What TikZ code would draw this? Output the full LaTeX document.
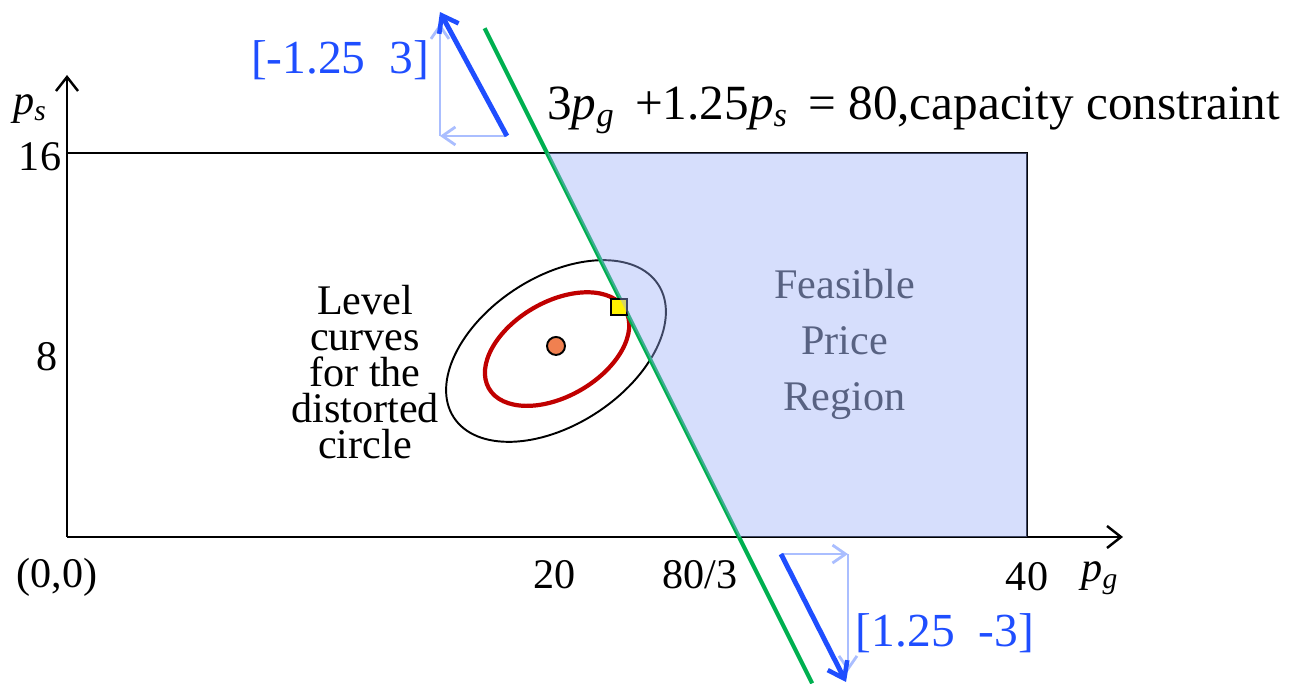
\documentclass[tikz,border=0pt]{standalone}
\usepackage{fontspec}
\setmainfont{Liberation Serif}
\usetikzlibrary{arrows.meta, positioning}
\definecolor{vecblue}{RGB}{31, 78, 255}
\definecolor{vecpale}{RGB}{170, 190, 255}
\definecolor{linegreen}{RGB}{0, 176, 80}
\definecolor{curvered}{RGB}{192, 0, 0}
\definecolor{dotorange}{RGB}{240, 128, 80}
\definecolor{regionfill}{RGB}{153, 173, 247}
\definecolor{regiontext}{RGB}{88, 98, 130}
\newcommand{\pvar}[1]{\textit{p}\textsubscript{\textit{#1}}}
\tikzset{
    axis/.style={-{Straight Barb[length=2.8mm, width=4.4mm, line width=1.4pt]}, line width=1.4pt},
    boxline/.style={line width=1.4pt},
    vecbold/.style={-{Straight Barb[length=3mm, width=4.4mm, line width=2.6pt]}, vecblue, line width=2.8pt},
    vecthin/.style={-{Straight Barb[length=2.6mm, width=3.6mm, line width=1.6pt]}, vecpale, line width=1.6pt},
    constraint/.style={linegreen, line width=2.4pt},
    label/.style={font=\fontsize{24}{20.5}\selectfont, inner sep=0pt},
    veclabel/.style={label, text=vecblue, font=\fontsize{27}{30}\selectfont}
}

\begin{document}
\begin{tikzpicture}[x=0.48cm, y=0.48cm]
    \useasboundingbox (-2.792,-6.125) rectangle (51.292,22.375);
    % frame and axes
    \coordinate (O) at (0,0);
    \coordinate (ctop) at (0,16);
    \coordinate (cright) at (40,16);
    \coordinate (cbase) at (40,0);
    \coordinate (xtip) at (44,0);
    \coordinate (ytip) at (0,19.25);
    \draw [boxline] (ctop) -- (cright) -- (cbase);
    \draw [axis] (O) -- (xtip);
    \draw [axis] (O) -- (ytip);

    % level curves
    \coordinate (outerc) at (20.375,7.75);
    \coordinate (innerc) at (20.42,7.83);
    \draw [line width=1.1pt, rotate around={33:(outerc)}] (outerc) ellipse [x radius=5.08, y radius=3.08];
    \draw [curvered, line width=2.4pt, rotate around={30:(innerc)}] (innerc) ellipse [x radius=3.28, y radius=1.97];
    \node (opt) [circle, draw, line width=1.1pt, fill=dotorange, minimum size=0.36cm, inner sep=0pt] at (20.375,7.96) {};

    % capacity constraint
    \coordinate (gtop) at (17.4,21.2);
    \coordinate (gbot) at (31.05,-6.1);
    \draw [constraint] (gtop) -- (gbot);
    \node (touch) [rectangle, draw, line width=1.1pt, fill=yellow, minimum size=0.32cm, inner sep=0pt] at (23.0,9.58) {};

    % feasible region
    \coordinate (rtl) at (20,16);
    \coordinate (rbl) at (28,0);
    \fill [regionfill, fill opacity=0.4] (rtl) -- (cright) -- (cbase) -- (rbl) -- cycle;

    % labels
    \node (pslab) [label] at (-1.54,17.85) {\pvar{s}};
    \node (lab16) [label] at (-1.125,15.83) {16};
    \node (lab8) [label] at (-0.83,7.5) {8};
    \node (lab00) [label] at (-0.42,-1.67) {(0,0)};
    \node (lab20) [label] at (20.33,-1.58) {20};
    \node (lab803) [label] at (26.375,-1.58) {80/3};
    \node (lab40) [label] at (40,-1.67) {40};
    \node (pglab) [label] at (43.04,-1.71) {\pvar{g}};
    \node (constrnote) [label, anchor=base west, font=\fontsize{28}{30}\selectfont] at (20.0,17.375) {3\pvar{g} \,+1.25\pvar{s} \,= 80,capacity constraint};
    \node (levelnote) [label, align=center] at (12.42,6.875) {Level\\curves\\for the\\distorted\\circle};
    \node (regionnote) [label, align=center, text=regiontext, font=\fontsize{24}{32}\selectfont] at (32.4,8.03) {Feasible\\Price\\Region};

    % normal vectors
    \coordinate (ufoot) at (18.33,16.71);
    \coordinate (utip) at (15.54,21.875);
    \coordinate (ucorner) at (15.54,16.71);
    \coordinate (upaletip) at (15.54,21.4);
    \draw [vecthin] (ufoot) -- (ucorner);
    \draw [vecthin] (ucorner) -- (upaletip);
    \draw [vecbold] (ufoot) -- (utip);
    \node (upvec) [veclabel] at (11.375,19.875) {[-1.25\ \ 3]};

    \coordinate (lfoot) at (29.75,-0.71);
    \coordinate (ltip) at (32.46,-6.04);
    \coordinate (lcorner) at (32.54,-0.71);
    \coordinate (lpaletip) at (32.54,-5.6);
    \draw [vecthin] (lfoot) -- (lcorner);
    \draw [vecthin] (lcorner) -- (lpaletip);
    \draw [vecbold] (lfoot) -- (ltip);
    \node (downvec) [veclabel] at (36.58,-4.0) {[1.25\ \ -3]};
\end{tikzpicture}
\end{document}
